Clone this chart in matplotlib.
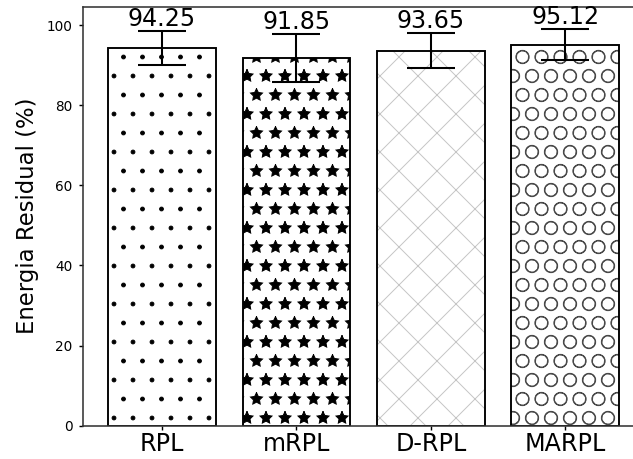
import matplotlib
matplotlib.use("Agg")
import matplotlib.pyplot as plt
import numpy as np

categories = ["RPL", "mRPL", "D-RPL", "MARPL"]
values = [94.25, 91.85, 93.65, 95.12]
errors = [4.25, 6.0, 4.3, 3.95]
labels = ["94.25", "91.85", "93.65", "95.12"]
hatches = ["..", "**", "xx", "OO"]
hatch_colors = ["black", "black", "#c4c4c4", "#4a4a4a"]
yticks = [0, 20, 40, 60, 80, 100]

DPI = 228
plt.rcParams["font.family"] = ["DejaVu Sans"]
plt.rcParams["hatch.linewidth"] = 0.3

fig = plt.figure(figsize=(633 / DPI, 459 / DPI), dpi=DPI)
ax = fig.add_axes([82.7 / 633, (459 - 425.7) / 459, 561.8 / 633, 419.0 / 459])

x = np.arange(len(categories))
for i in range(len(categories)):
    ax.bar(x[i], values[i], width=0.8, color="white", edgecolor=hatch_colors[i],
           hatch=hatches[i], linewidth=0)
ax.bar(x, values, width=0.8, color="none", edgecolor="black", linewidth=0.6)
ax.errorbar(x, values, yerr=errors, fmt="none", ecolor="black",
            elinewidth=0.65, capsize=7.6, capthick=0.65)

for i in range(len(categories)):
    ax.text(x[i], values[i] + errors[i], labels[i], ha="center", va="bottom",
            fontsize=7.5)

ax.set_xlim(-0.59, 3.59)
ax.set_ylim(0, 104.6)
ax.set_xticks(x)
ax.set_xticklabels(categories, fontsize=7.5)
ax.set_yticks(yticks)
ax.set_yticklabels([str(v) for v in yticks], fontsize=4.3)
ax.set_ylabel("Energia Residual (%)", fontsize=7.2, labelpad=2.5)
ax.tick_params(axis="both", length=1.4, width=0.45, pad=1.8)
ax.tick_params(axis="x", pad=0.6)
for s in ax.spines.values():
    s.set_linewidth(0.5)
    s.set_color("#333333")

fig.savefig("out.png", dpi=DPI)
